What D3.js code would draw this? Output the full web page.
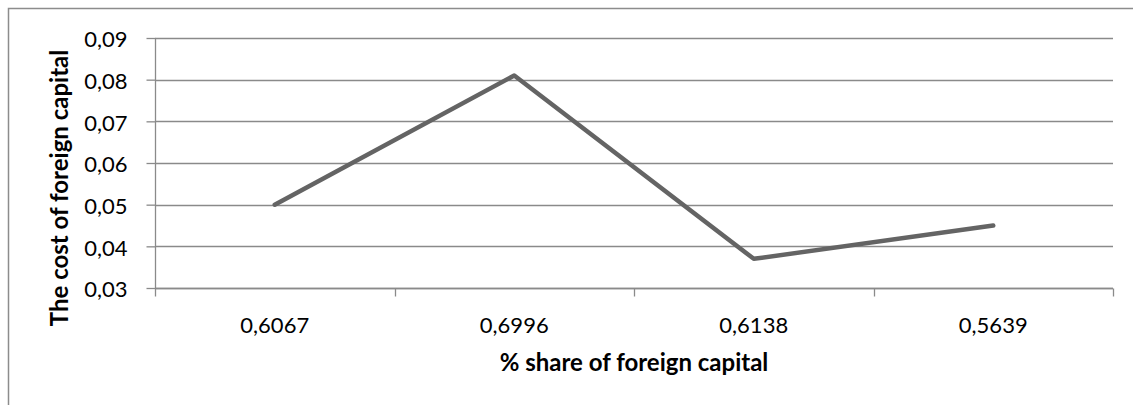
<!DOCTYPE html>
<html>
<head>
<meta charset="utf-8">
<script src="https://cdn.jsdelivr.net/npm/d3@7"></script>
<style>
  html, body { margin: 0; padding: 0; background: #fff; }
  svg { display: block; }
</style>
</head>
<body>
<svg id="chart" width="1133" height="405"></svg>
<script>
const categories = ["0,6067", "0,6996", "0,6138", "0,5639"];
const costValues = [0.050, 0.081, 0.037, 0.045];
const yTicks = [0.03, 0.04, 0.05, 0.06, 0.07, 0.08, 0.09];
const xTitle = "% share of foreign capital";
const yTitle = "The cost of foreign capital";

const svg = d3.select("#chart");
const W = 1133, H = 405;
const margin = { left: 155, right: W - 1113, top: 38, bottom: H - 288 };
const font = "Lato, 'Open Sans', sans-serif";

// outer chart border (top and left visible)
svg.append("path")
  .attr("d", `M8.5,${H} L8.5,8.5 L${W},8.5`)
  .attr("fill", "none").attr("stroke", "#8c8c8c").attr("stroke-width", 1.5);

const x = d3.scaleBand().domain(categories).range([margin.left, W - margin.right]);
const y = d3.scaleLinear().domain([0.03, 0.09]).range([H - margin.bottom, margin.top]);

// gridlines
svg.append("g")
  .selectAll("line").data(yTicks).join("line")
  .attr("x1", margin.left).attr("x2", W - margin.right)
  .attr("y1", d => Math.round(y(d)) + 0.5).attr("y2", d => Math.round(y(d)) + 0.5)
  .attr("stroke", "#8a8a8a").attr("stroke-width", 1.3);

// y axis
const yAxis = svg.append("g")
  .attr("transform", `translate(${margin.left + 0.5},0)`)
  .call(d3.axisLeft(y).tickValues(yTicks).tickSize(9).tickPadding(19)
    .tickFormat(d => d3.format(".2f")(d).replace(".", ",")));
yAxis.select(".domain").attr("stroke", "#8a8a8a").attr("stroke-width", 1.3)
  .attr("d", `M0,${y(0.09)}V${y(0.03)}`);
yAxis.selectAll(".tick line").attr("stroke", "#8a8a8a").attr("stroke-width", 1.3);
yAxis.selectAll(".tick text").attr("font-family", font).attr("font-size", 22)
  .attr("fill", "#000").attr("dy", "0.4em");

// x axis
const xAxis = svg.append("g")
  .attr("transform", `translate(0,${Math.round(y(0.03)) + 0.5})`)
  .call(d3.axisBottom(x).tickSize(0));
xAxis.select(".domain").attr("stroke", "#8a8a8a").attr("stroke-width", 1.3)
  .attr("d", `M${margin.left},0H${W - margin.right}`);
xAxis.selectAll(".tick text")
  .attr("font-family", font).attr("font-size", 22).attr("fill", "#000")
  .attr("dy", null).attr("y", 44);
// category boundary ticks
const bounds = categories.map(c => x(c)).concat([x.range()[1]]);
xAxis.append("g").selectAll("line").data(bounds).join("line")
  .attr("x1", d => Math.round(d) + 0.5).attr("x2", d => Math.round(d) + 0.5)
  .attr("y1", 0).attr("y2", 8)
  .attr("stroke", "#8a8a8a").attr("stroke-width", 1.3);

// line
const line = d3.line()
  .x((d, i) => x(categories[i]) + x.bandwidth() / 2)
  .y(d => y(d));
svg.append("path")
  .datum(costValues)
  .attr("d", line)
  .attr("fill", "none")
  .attr("stroke", "#646464")
  .attr("stroke-width", 4.5)
  .attr("stroke-linecap", "round")
  .attr("stroke-linejoin", "round");

// titles
svg.append("text")
  .attr("x", (margin.left + W - margin.right) / 2).attr("y", 371)
  .attr("text-anchor", "middle")
  .attr("font-family", font).attr("font-weight", "bold").attr("font-size", 24)
  .text(xTitle);

svg.append("text")
  .attr("transform", `translate(68,188) rotate(-90)`)
  .attr("text-anchor", "middle")
  .attr("font-family", font).attr("font-weight", "bold").attr("font-size", 24)
  .text(yTitle);
</script>
</body>
</html>
